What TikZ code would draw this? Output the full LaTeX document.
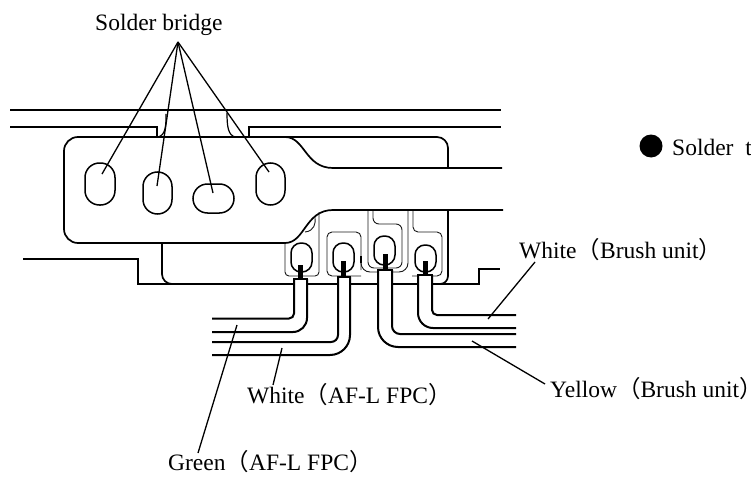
\documentclass[tikz,border=0pt]{standalone}
\usepackage{fontspec}
\setmainfont{Liberation Serif}
\newfontfamily\cjkf{Noto Sans CJK SC}
\newcommand{\lp}{{\cjkf （}}
\newcommand{\rp}{{\cjkf ）}}
\newcommand{\rpshort}{\makebox[8pt][l]{\cjkf ）}}
\tikzset{
  mainline/.style={line width=1.7pt,line join=miter},
  wireline/.style={line width=2pt},
  thinline/.style={line width=0.9pt,black!90},
  padline/.style={line width=1.5pt},
  leader/.style={line width=1.3pt},
  lbl/.style={inner sep=0pt,font=\fontsize{23.5}{27}\selectfont},
  pin/.style={fill=black,draw=none}
}
\begin{document}
\begin{tikzpicture}[x=1pt,y=-1pt]
\useasboundingbox (0,0) rectangle (751,476);
% frame rails
\draw[mainline] (10,110) -- (501,110);
\draw[mainline] (10,127) -- (157,127) -- (157,137);
\draw[mainline] (249,137) -- (249,127) -- (501,127);
\draw[line width=1.2pt] (166,114) .. controls (166,125) and (166,135) .. (158,137);
\draw[line width=1.2pt] (227,113) .. controls (227,126) and (228,135) .. (235,137);
% body
\draw[mainline,rounded corners=14pt] (285,137) -- (64,137) -- (64,243) -- (285,243);
\draw[mainline] (285,137) .. controls (305,137) and (305,168) .. (333,168) -- (502,168);
\draw[mainline] (285,243) .. controls (305,243) and (305,210) .. (333,210) -- (503,210);
\draw[line width=2.6pt] (268,137) -- (275,137) (268,243) -- (275,243) (333,168) -- (338,168) (333,210) -- (338,210);
% upper right outline
\draw[mainline,rounded corners=11pt] (285,137) -- (448,137) -- (448,168);
% lower outline
\draw[mainline] (23,259) -- (138,259) -- (138,284) -- (172,284);
\draw[mainline,rounded corners=10pt] (162,243) -- (162,284) -- (175,284);
\draw[mainline] (172,284) -- (440,284);
\draw[mainline,rounded corners=8pt] (448,210) -- (448,284) -- (436,284);
\draw[mainline] (440,284) -- (479,284) -- (479,269) -- (500,269);
% thin outlines around pads
\draw[thinline,rounded corners=4pt] (285,243) -- (285,276) -- (319,276) -- (319,212);
\draw[thinline] (315,217) .. controls (316,224) and (314,231) .. (305,232);
\draw[thinline,rounded corners=5pt] (361,270) -- (361,232) -- (327,232) -- (327,276) -- (361,276);
\draw[thinline,rounded corners=6pt] (373,211) -- (373,224) -- (402,224) -- (402,268) -- (368,268) -- (368,211);
\draw[thinline,rounded corners=9pt] (361,258) -- (361,272) -- (408,272) -- (408,211);
\draw[thinline,rounded corners=5pt] (413,211) -- (413,232) -- (442,232) -- (442,276) -- (412,276);
\draw[line width=1.5pt] (361,256) -- (361,263);
% solder holes
\draw[padline,rounded corners=14.5pt] (85,163) rectangle (115,205);
\draw[padline,rounded corners=14.5pt] (143,172) rectangle (172,214);
\draw[padline,rounded corners=14.5pt] (193,184) rectangle (234,213);
\draw[padline,rounded corners=14.5pt] (256,163) rectangle (285,205);
% pads
\draw[padline,rounded corners=10pt] (291,243) rectangle (312,272);
\draw[padline,rounded corners=10pt] (333,243) rectangle (354,272);
\draw[padline,rounded corners=10pt] (374,236) rectangle (395,265);
\draw[padline,rounded corners=10pt] (415,245) rectangle (436,272);
% pins
\fill[pin] (298,265) rectangle (303,279);
\fill[pin] (341,261) rectangle (346,277);
\fill[pin] (383,254) rectangle (388,270);
\fill[pin] (423,261) rectangle (428,275);
% wire 1
\fill[white] (294,279) -- (307,279) -- (307,320) -- (292,332) -- (212,332) -- (212,318) -- (288,318) -- (294,313) -- cycle;
\draw[wireline,rounded corners=5pt] (212,318.5) -- (294,318.5) -- (294,279);
\draw[wireline,rounded corners=14pt] (212,332) -- (307,332) -- (307,279);
\draw[wireline] (293,279) -- (308,279);
% wire 2
\fill[white] (338,277) -- (350,277) -- (350,340) -- (335,355) -- (212,355) -- (212,342) -- (332,342) -- (338,336) -- cycle;
\draw[wireline,rounded corners=7pt] (212,342) -- (338,342) -- (338,277);
\draw[wireline,rounded corners=20pt] (212,355) -- (350,355) -- (350,277);
\draw[wireline] (337,277) -- (351,277);
% wire 3
\fill[white] (378,270) -- (392,270) -- (392,326) -- (400,334) -- (516,334) -- (516,347) -- (398,347) -- (378,327) -- cycle;
\draw[wireline,rounded corners=8pt] (516,334) -- (392,334) -- (392,270);
\draw[wireline,rounded corners=20pt] (516,347) -- (378,347) -- (378,270);
\draw[wireline] (377,270) -- (393,270);
% wire 4
\fill[white] (418,275) -- (432,275) -- (432,310) -- (438,315) -- (516,315) -- (516,328) -- (436,328) -- (418,312) -- cycle;
\draw[wireline,rounded corners=5pt] (516,315) -- (432,315) -- (432,275);
\draw[wireline,rounded corners=15pt] (516,328) -- (418,328) -- (418,275);
\draw[wireline] (417,275) -- (433,275);
% labels
\node[lbl,anchor=base west] (bridge) at (95,31) {Solder bridge};
\coordinate (apex) at (178,42);
\coordinate (h1) at (102,174);
\coordinate (h2) at (157,186);
\coordinate (h3) at (213,193);
\coordinate (h4) at (269,172);
\draw[leader] (apex) -- (h1);
\draw[leader] (apex) -- (h2);
\draw[leader] (apex) -- (h3);
\draw[leader] (apex) -- (h4);
\node[circle,fill=black,minimum size=23pt,inner sep=0pt] (dot) at (651,146) {};
\node[lbl,anchor=base west] (solder) at (672,155) {Solder~~t};
\node[lbl,anchor=base west] (wb) at (519,258) {White\lp Brush unit\rp};
\node[lbl,anchor=base west] (yb) at (550,397) {Yellow\lp Brush unit\rpshort};
\node[lbl,anchor=base west] (wa) at (247,403) {White\lp AF-L FPC\rp};
\node[lbl,anchor=base west] (ga) at (168,470) {Green\lp AF-L FPC\rp};
\coordinate (wbend) at (488,319);
\coordinate (wbstart) at (535,262);
\coordinate (ybend) at (472,341);
\coordinate (ybstart) at (545,384);
\coordinate (waend) at (282,348);
\coordinate (wastart) at (273,385);
\coordinate (gaend) at (237,325);
\coordinate (gastart) at (198,453);
\draw[leader] (wbstart) -- (wbend);
\draw[leader] (ybstart) -- (ybend);
\draw[leader] (wastart) -- (waend);
\draw[leader] (gastart) -- (gaend);
\end{tikzpicture}
\end{document}
